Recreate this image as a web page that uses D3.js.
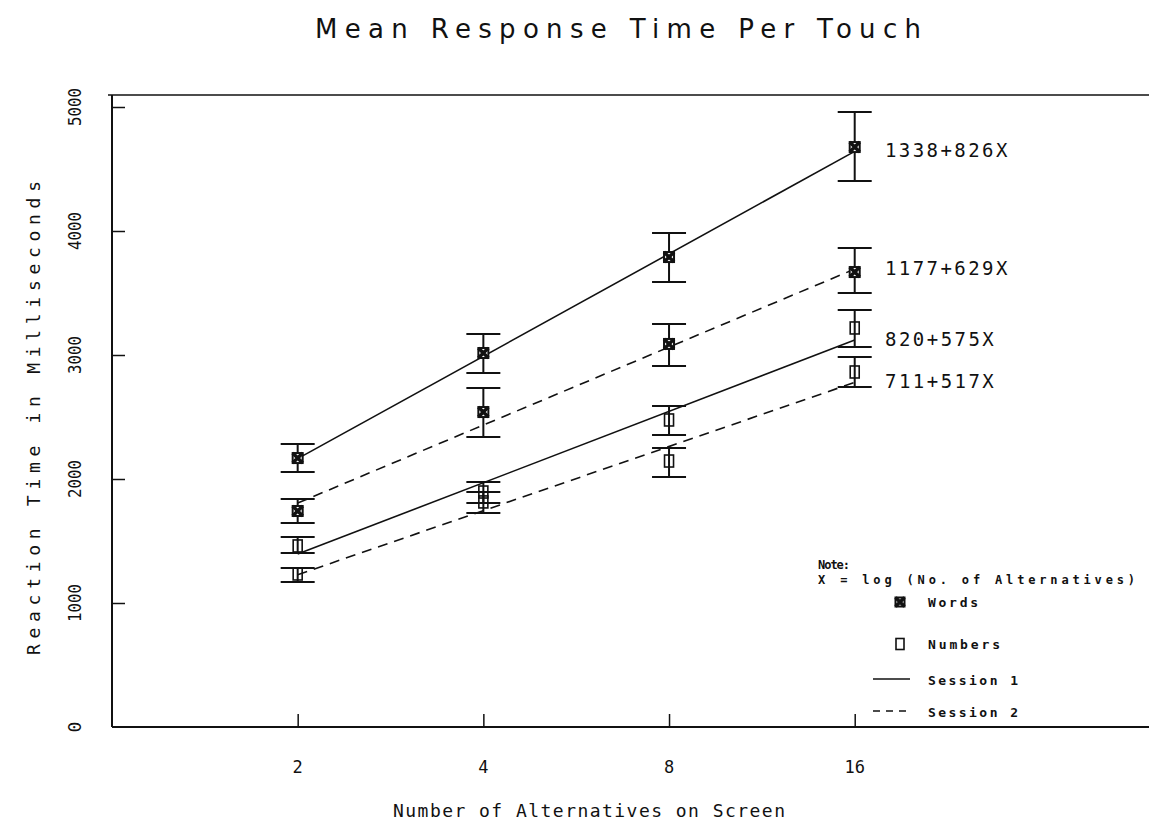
<!DOCTYPE html>
<html>
<head>
<meta charset="utf-8">
<script src="https://cdn.jsdelivr.net/npm/d3@7"></script>
<style>
  html, body { margin: 0; padding: 0; background: #fff; }
  svg { display: block; }
  text { fill: #111; }
</style>
</head>
<body>
<svg id="chart" width="1149" height="824"></svg>
<script>
// Number of alternatives shown on screen
const alternatives = [2, 4, 8, 16];

// Mean reaction time (ms) and error-bar bounds per condition
const wordsS1Mean = [2169, 3016, 3790, 4677];
const wordsS1Low  = [2056, 2855, 3589, 4403];
const wordsS1High = [2282, 3169, 3984, 4960];

const wordsS2Mean = [1742, 2540, 3089, 3669];
const wordsS2Low  = [1645, 2339, 2911, 3500];
const wordsS2High = [1839, 2734, 3250, 3863];

const numbersS1Mean = [1460, 1895, 2476, 3218];
const numbersS1Low  = [1403, 1806, 2355, 3065];
const numbersS1High = [1532, 1976, 2589, 3363];

const numbersS2Mean = [1234, 1815, 2145, 2863];
const numbersS2Low  = [1169, 1726, 2016, 2742];
const numbersS2High = [1282, 1895, 2250, 2984];

// Regression fits: RT = intercept + slope * log2(alternatives)
const fitIntercepts = [1338, 1177, 820, 711];
const fitSlopes     = [826, 629, 575, 517];
const fitLabels     = ["1338+826X", "1177+629X", "820+575X", "711+517X"];

const yTicks = [0, 1000, 2000, 3000, 4000, 5000];

const series = [
  { mean: wordsS1Mean,   low: wordsS1Low,   high: wordsS1High,   marker: "words",   dashed: false, fit: 0 },
  { mean: wordsS2Mean,   low: wordsS2Low,   high: wordsS2High,   marker: "words",   dashed: true,  fit: 1 },
  { mean: numbersS1Mean, low: numbersS1Low, high: numbersS1High, marker: "numbers", dashed: false, fit: 2 },
  { mean: numbersS2Mean, low: numbersS2Low, high: numbersS2High, marker: "numbers", dashed: true,  fit: 3 }
];

const svg = d3.select("#chart");
const ink = "#111";
const mono = "'DejaVu Sans Mono', 'Liberation Mono', monospace";

const left = 112, right = 1149, bottom = 727, topFrame = 95;
const x = d3.scaleLog().base(2).domain([1, 48]).range([left, right]);
const y = d3.scaleLinear().domain([0, 5000]).range([bottom, 107]);

// Frame: left axis, bottom axis, top rule
const frame = svg.append("g").attr("stroke", ink).attr("fill", "none");
frame.append("line").attr("x1", left).attr("x2", left).attr("y1", topFrame).attr("y2", bottom).attr("stroke-width", 2);
frame.append("line").attr("x1", left).attr("x2", right).attr("y1", bottom).attr("y2", bottom).attr("stroke-width", 2);
frame.append("line").attr("x1", 108).attr("x2", right).attr("y1", topFrame).attr("y2", topFrame).attr("stroke-width", 1.5);

// Y axis ticks pointing inward
const yAxis = d3.axisRight(y).tickValues(yTicks.filter(d => d > 0)).tickSize(13).tickFormat("");
svg.append("g").attr("transform", `translate(${left},0)`).call(yAxis)
  .call(g => g.select(".domain").remove())
  .call(g => g.selectAll("line").attr("stroke", ink).attr("stroke-width", 1.5));

// X axis ticks pointing inward
const xAxis = d3.axisTop(x).tickValues(alternatives).tickSize(13).tickFormat("");
svg.append("g").attr("transform", `translate(0,${bottom})`).call(xAxis)
  .call(g => g.select(".domain").remove())
  .call(g => g.selectAll("line").attr("stroke", ink).attr("stroke-width", 1.5));

// Y tick labels, rotated
svg.append("g").selectAll("text").data(yTicks).join("text")
  .attr("transform", d => `translate(74,${y(d)}) rotate(-90)`)
  .attr("text-anchor", "middle").attr("dominant-baseline", "central")
  .attr("font-family", mono).attr("font-size", 18)
  .attr("textLength", d => String(d).length === 1 ? null : 38)
  .attr("lengthAdjust", "spacingAndGlyphs")
  .text(d => d);

// X tick labels
svg.append("g").selectAll("text").data(alternatives).join("text")
  .attr("x", d => x(d)).attr("y", 767)
  .attr("text-anchor", "middle").attr("dominant-baseline", "central")
  .attr("font-family", mono).attr("font-size", 17)
  .text(d => d);

// Titles
svg.append("text").attr("x", 618).attr("y", 29)
  .attr("text-anchor", "middle").attr("dominant-baseline", "central")
  .attr("font-family", "'DejaVu Sans', sans-serif").attr("font-size", 26)
  .attr("textLength", 606).attr("lengthAdjust", "spacing")
  .text("Mean Response Time Per Touch");

svg.append("text").attr("x", 589).attr("y", 810)
  .attr("text-anchor", "middle").attr("dominant-baseline", "central")
  .attr("font-family", mono).attr("font-size", 18)
  .attr("textLength", 392).attr("lengthAdjust", "spacing")
  .text("Number of Alternatives on Screen");

svg.append("text").attr("transform", "translate(33,418) rotate(-90)")
  .attr("text-anchor", "middle").attr("dominant-baseline", "central")
  .attr("font-family", mono).attr("font-size", 18)
  .attr("textLength", 474).attr("lengthAdjust", "spacing")
  .text("Reaction Time in Milliseconds");

// Regression lines
const fitLine = d3.line().x(d => x(d.n)).y(d => y(d.v));
series.forEach(s => {
  const pts = [2, 16].map(n => ({ n, v: fitIntercepts[s.fit] + fitSlopes[s.fit] * Math.log2(n) }));
  svg.append("path").attr("d", fitLine(pts))
    .attr("fill", "none").attr("stroke", ink).attr("stroke-width", 1.6)
    .attr("stroke-dasharray", s.dashed ? "10,7" : null);
});

// Error bars
const capHalf = 17;
series.forEach(s => {
  const g = svg.append("g").attr("stroke", ink).attr("stroke-width", 2).attr("fill", "none");
  alternatives.forEach((n, i) => {
    const cx = x(n);
    g.append("line").attr("x1", cx).attr("x2", cx).attr("y1", y(s.low[i])).attr("y2", y(s.high[i]));
    g.append("line").attr("x1", cx - capHalf).attr("x2", cx + capHalf).attr("y1", y(s.low[i])).attr("y2", y(s.low[i]));
    g.append("line").attr("x1", cx - capHalf).attr("x2", cx + capHalf).attr("y1", y(s.high[i])).attr("y2", y(s.high[i]));
  });
});

// Markers
function drawMarker(g, cx, cy, kind, size) {
  const h = size / 2;
  if (kind === "words") {
    g.append("rect").attr("x", cx - h).attr("y", cy - h).attr("width", size).attr("height", size)
      .attr("fill", "#fff").attr("stroke", ink).attr("stroke-width", 2);
    g.append("path").attr("d", `M${cx - h},${cy - h}L${cx + h},${cy + h}M${cx + h},${cy - h}L${cx - h},${cy + h}`)
      .attr("stroke", ink).attr("stroke-width", 3.5);
  } else {
    g.append("rect").attr("x", cx - h + 0.5).attr("y", cy - h - 1).attr("width", size - 1).attr("height", size + 2)
      .attr("fill", "none").attr("stroke", ink).attr("stroke-width", 1.6);
  }
}
series.forEach(s => {
  const g = svg.append("g");
  alternatives.forEach((n, i) => drawMarker(g, x(n), y(s.mean[i]), s.marker, 10));
});

// Fit equations at right end
const fitLabelY = [150, 268, 339, 381];
svg.append("g").selectAll("text").data(fitLabels).join("text")
  .attr("x", 885).attr("y", (d, i) => fitLabelY[i])
  .attr("dominant-baseline", "central")
  .attr("font-family", mono).attr("font-size", 19)
  .attr("textLength", d => d.length * 13.6).attr("lengthAdjust", "spacing")
  .text(d => d);

// Note and legend
const legendFont = "'DejaVu Sans Mono', monospace";
svg.append("text").attr("x", 818).attr("y", 565).attr("dominant-baseline", "central")
  .attr("font-family", legendFont).attr("font-size", 12).attr("font-weight", "bold")
  .attr("textLength", 32).attr("lengthAdjust", "spacing").text("Note:");
svg.append("text").attr("x", 818).attr("y", 580).attr("dominant-baseline", "central")
  .attr("font-family", legendFont).attr("font-size", 12).attr("font-weight", "bold")
  .attr("textLength", 317).attr("lengthAdjust", "spacing").text("X = log (No. of Alternatives)");

const legendItems = [
  { label: "Words",     kind: "words",   y: 602, w: 50 },
  { label: "Numbers",   kind: "numbers", y: 644, w: 72 },
  { label: "Session 1", kind: "solid",   y: 680, w: 90 },
  { label: "Session 2", kind: "dashed",  y: 712, w: 90 }
];
const lg = svg.append("g");
legendItems.forEach(it => {
  if (it.kind === "words" || it.kind === "numbers") {
    drawMarker(lg, 900, it.y, it.kind, 9);
  } else {
    lg.append("line").attr("x1", 873).attr("x2", 910).attr("y1", it.y - 1).attr("y2", it.y - 1)
      .attr("stroke", ink).attr("stroke-width", 1.5)
      .attr("stroke-dasharray", it.kind === "dashed" ? "7,6" : null);
  }
  lg.append("text").attr("x", 928).attr("y", it.y).attr("dominant-baseline", "central")
    .attr("font-family", legendFont).attr("font-size", 13).attr("font-weight", "bold")
    .attr("textLength", it.w).attr("lengthAdjust", "spacing").text(it.label);
});
</script>
</body>
</html>
